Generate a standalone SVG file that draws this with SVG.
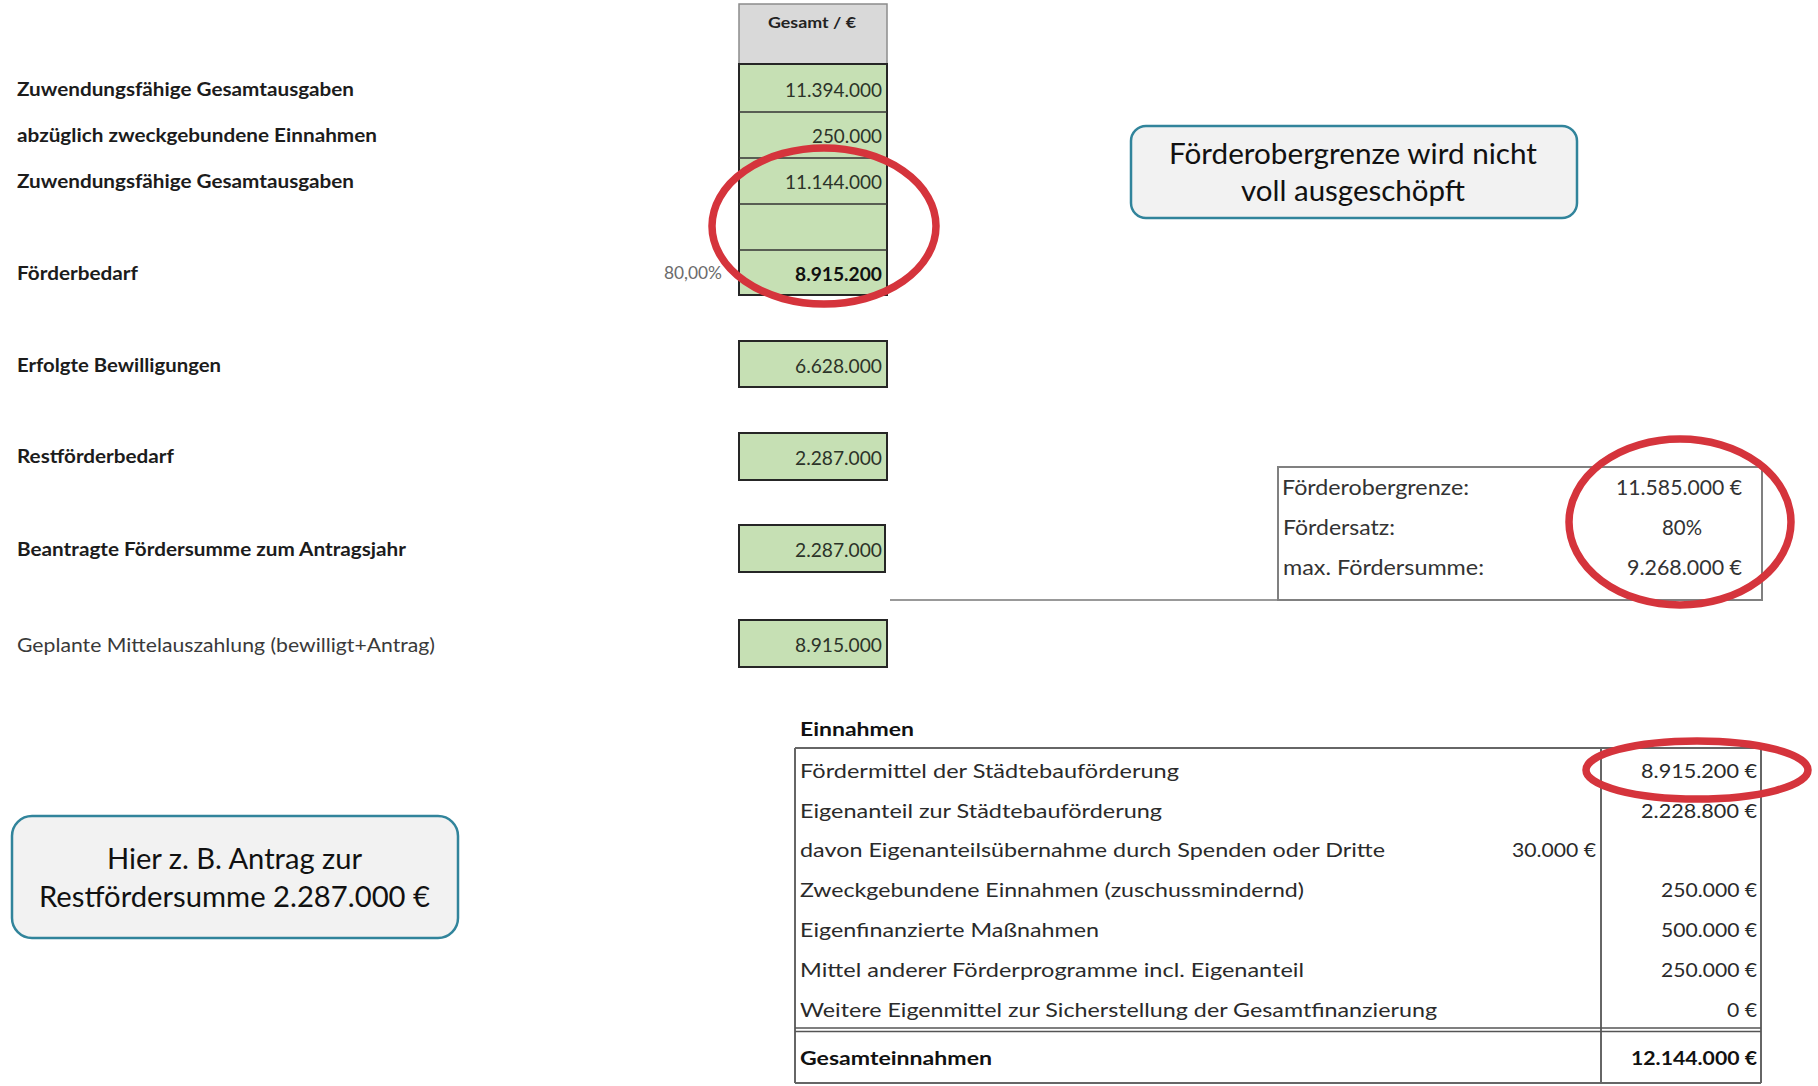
<svg xmlns="http://www.w3.org/2000/svg" width="1818" height="1086" viewBox="0 0 1818 1086">
<style>
text{font-family:Lato,'Liberation Sans',sans-serif}
.lbl{font-size:18.5px;font-weight:700;fill:#1c1c1c}
.lbl2{font-size:18.5px;font-weight:400;fill:#3a3a3a}
.val{font-size:19px;fill:#2c3329}
.valb{font-size:19px;font-weight:700;fill:#111}
.pct{font-size:17px;fill:#6b6b6b}
.hdr{font-size:15px;font-weight:700;fill:#222}
.cell{fill:#c6e0b4;stroke:#262626;stroke-width:2}
.sep{stroke:#333;stroke-width:1.5}
.info{font-size:21px;fill:#333}
.tb{font-size:19px;fill:#2a2a2a}
.tbb{font-size:19px;font-weight:700;fill:#111}
.tline{stroke:#666;stroke-width:2;fill:none}
.callout{fill:#f2f2f2;stroke:#31849b;stroke-width:2.5}
.ctext{font-size:28px;fill:#111}
.ring{fill:none;stroke:#d5343c;stroke-width:7.5}
</style>

<g id="left-labels">
<text class="lbl" x="17" y="96" textLength="337" lengthAdjust="spacingAndGlyphs">Zuwendungsfähige Gesamtausgaben</text>
<text class="lbl" x="17" y="142" textLength="360" lengthAdjust="spacingAndGlyphs">abzüglich zweckgebundene Einnahmen</text>
<text class="lbl" x="17" y="188" textLength="337" lengthAdjust="spacingAndGlyphs">Zuwendungsfähige Gesamtausgaben</text>
<text class="lbl" x="17" y="280" textLength="121" lengthAdjust="spacingAndGlyphs">Förderbedarf</text>
<text class="pct" x="664" y="279" textLength="58" lengthAdjust="spacingAndGlyphs">80,00%</text>
<text class="lbl" x="17" y="372" textLength="204" lengthAdjust="spacingAndGlyphs">Erfolgte Bewilligungen</text>
<text class="lbl" x="17" y="463" textLength="157" lengthAdjust="spacingAndGlyphs">Restförderbedarf</text>
<text class="lbl" x="17" y="556" textLength="389" lengthAdjust="spacingAndGlyphs">Beantragte Fördersumme zum Antragsjahr</text>
<text class="lbl2" x="17" y="652" textLength="418" lengthAdjust="spacingAndGlyphs">Geplante Mittelauszahlung (bewilligt+Antrag)</text>
</g>

<g id="gesamt-column">
<rect x="739" y="4" width="148" height="60" fill="#d9d9d9" stroke="#8c8c8c" stroke-width="1.5"/>
<text class="hdr" x="768" y="28" textLength="88" lengthAdjust="spacingAndGlyphs">Gesamt / €</text>
<rect class="cell" x="739" y="64" width="148" height="231"/>
<line class="sep" x1="739" y1="112" x2="887" y2="112"/>
<line class="sep" x1="739" y1="158" x2="887" y2="158"/>
<line class="sep" x1="739" y1="204" x2="887" y2="204"/>
<line class="sep" x1="739" y1="250" x2="887" y2="250"/>
<text class="val" x="785" y="97" textLength="97" lengthAdjust="spacingAndGlyphs">11.394.000</text>
<text class="val" x="812" y="143" textLength="70" lengthAdjust="spacingAndGlyphs">250.000</text>
<text class="val" x="785" y="189" textLength="97" lengthAdjust="spacingAndGlyphs">11.144.000</text>
<text class="valb" x="795" y="281" textLength="87" lengthAdjust="spacingAndGlyphs">8.915.200</text>
</g>

<g id="box-bewilligungen">
<rect class="cell" x="739" y="341" width="148" height="46"/>
<text class="val" x="795" y="373" textLength="87" lengthAdjust="spacingAndGlyphs">6.628.000</text>
</g>
<g id="box-restbedarf">
<rect class="cell" x="739" y="433" width="148" height="47"/>
<text class="val" x="795" y="465" textLength="87" lengthAdjust="spacingAndGlyphs">2.287.000</text>
</g>
<g id="box-beantragt">
<rect class="cell" x="739" y="525" width="146" height="47"/>
<text class="val" x="795" y="557" textLength="87" lengthAdjust="spacingAndGlyphs">2.287.000</text>
</g>
<g id="box-geplant">
<rect class="cell" x="739" y="620" width="148" height="47"/>
<text class="val" x="795" y="652" textLength="87" lengthAdjust="spacingAndGlyphs">8.915.000</text>
</g>

<g id="info-box">
<line x1="890" y1="600" x2="1278" y2="600" stroke="#999" stroke-width="2"/>
<rect x="1278" y="467" width="484" height="133" fill="none" stroke="#808080" stroke-width="2"/>
<text class="info" x="1282" y="495" textLength="187" lengthAdjust="spacingAndGlyphs">Förderobergrenze:</text>
<text class="info" x="1283" y="535" textLength="112" lengthAdjust="spacingAndGlyphs">Fördersatz:</text>
<text class="info" x="1283" y="575" textLength="201" lengthAdjust="spacingAndGlyphs">max. Fördersumme:</text>
<text class="info" x="1616" y="495" textLength="126" lengthAdjust="spacingAndGlyphs">11.585.000 €</text>
<text class="info" x="1662" y="535" textLength="40" lengthAdjust="spacingAndGlyphs">80%</text>
<text class="info" x="1627" y="575" textLength="115" lengthAdjust="spacingAndGlyphs">9.268.000 €</text>
</g>

<g id="einnahmen-table">
<text class="tbb" x="800" y="736" textLength="114" lengthAdjust="spacingAndGlyphs">Einnahmen</text>
<line class="tline" x1="795" y1="748" x2="1761" y2="748"/>
<line class="tline" x1="795" y1="748" x2="795" y2="1083"/>
<line class="tline" x1="1761" y1="748" x2="1761" y2="1083"/>
<line class="tline" x1="1601" y1="748" x2="1601" y2="1083"/>
<line x1="795" y1="1028" x2="1761" y2="1028" stroke="#555" stroke-width="1.5"/>
<line x1="795" y1="1031.5" x2="1761" y2="1031.5" stroke="#555" stroke-width="1.5"/>
<line class="tline" x1="795" y1="1083" x2="1761" y2="1083"/>
<text class="tb" x="800" y="778" textLength="379" lengthAdjust="spacingAndGlyphs">Fördermittel der Städtebauförderung</text>
<text class="tb" x="800" y="818" textLength="362" lengthAdjust="spacingAndGlyphs">Eigenanteil zur Städtebauförderung</text>
<text class="tb" x="800" y="857" textLength="585" lengthAdjust="spacingAndGlyphs">davon Eigenanteilsübernahme durch Spenden oder Dritte</text>
<text class="tb" x="800" y="897" textLength="504" lengthAdjust="spacingAndGlyphs">Zweckgebundene Einnahmen (zuschussmindernd)</text>
<text class="tb" x="800" y="937" textLength="299" lengthAdjust="spacingAndGlyphs">Eigenfinanzierte Maßnahmen</text>
<text class="tb" x="800" y="977" textLength="504" lengthAdjust="spacingAndGlyphs">Mittel anderer Förderprogramme incl. Eigenanteil</text>
<text class="tb" x="800" y="1017" textLength="637" lengthAdjust="spacingAndGlyphs">Weitere Eigenmittel zur Sicherstellung der Gesamtfinanzierung</text>
<text class="tbb" x="800" y="1065" textLength="192" lengthAdjust="spacingAndGlyphs">Gesamteinnahmen</text>
<text class="tb" x="1641" y="778" textLength="116" lengthAdjust="spacingAndGlyphs">8.915.200 €</text>
<text class="tb" x="1641" y="818" textLength="116" lengthAdjust="spacingAndGlyphs">2.228.800 €</text>
<text class="tb" x="1512" y="857" textLength="84" lengthAdjust="spacingAndGlyphs">30.000 €</text>
<text class="tb" x="1661" y="897" textLength="96" lengthAdjust="spacingAndGlyphs">250.000 €</text>
<text class="tb" x="1661" y="937" textLength="96" lengthAdjust="spacingAndGlyphs">500.000 €</text>
<text class="tb" x="1661" y="977" textLength="96" lengthAdjust="spacingAndGlyphs">250.000 €</text>
<text class="tb" x="1727" y="1017" textLength="30" lengthAdjust="spacingAndGlyphs">0 €</text>
<text class="tbb" x="1631" y="1065" textLength="126" lengthAdjust="spacingAndGlyphs">12.144.000 €</text>
</g>

<g id="callout-foerderobergrenze">
<rect class="callout" x="1131" y="126" width="446" height="92" rx="15"/>
<text class="ctext" x="1169" y="164" textLength="368" lengthAdjust="spacingAndGlyphs">Förderobergrenze wird nicht</text>
<text class="ctext" x="1241" y="201" textLength="224" lengthAdjust="spacingAndGlyphs">voll ausgeschöpft</text>
</g>

<g id="callout-antrag">
<rect class="callout" x="12" y="816" width="446" height="122" rx="20"/>
<text class="ctext" x="107" y="869" textLength="255" lengthAdjust="spacingAndGlyphs">Hier z. B. Antrag zur</text>
<text class="ctext" x="39" y="907" textLength="391" lengthAdjust="spacingAndGlyphs">Restfördersumme 2.287.000 €</text>
</g>

<g id="highlights">
<ellipse class="ring" cx="824" cy="226" rx="112" ry="78"/>
<ellipse class="ring" cx="1680" cy="522" rx="111" ry="83"/>
<ellipse class="ring" cx="1697" cy="770" rx="111" ry="29"/>
</g>
</svg>
